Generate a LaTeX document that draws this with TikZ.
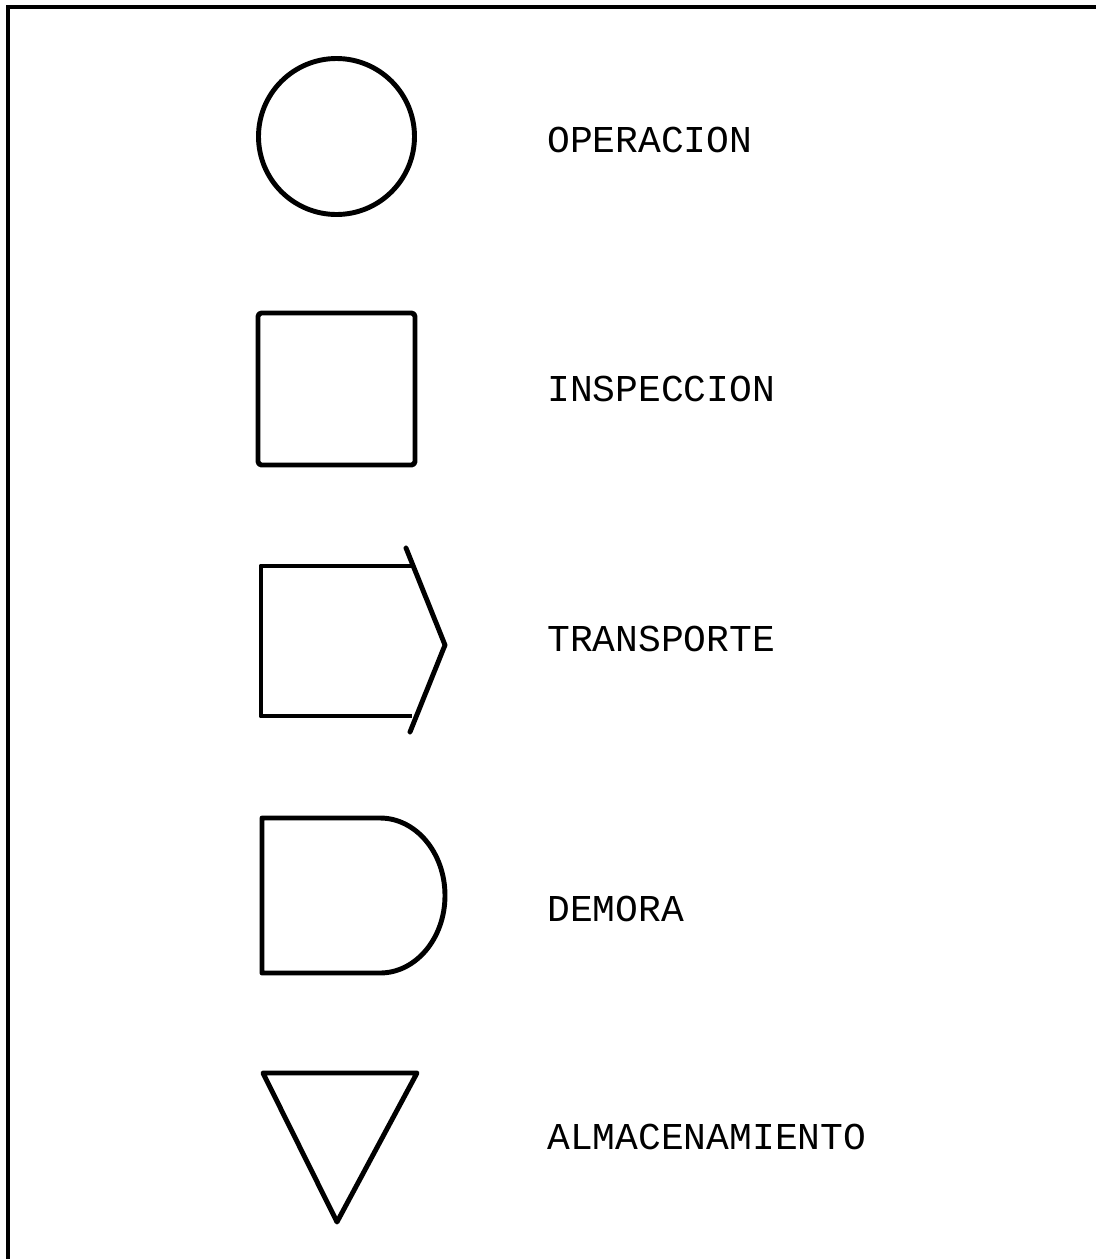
\documentclass[tikz,border=0pt]{standalone}
\usepackage{fontspec}
\setmonofont{Liberation Mono}
\usepackage{tikz}

\tikzset{
  symb/.style = {line width=2.8pt, line join=round},
  lbl/.style = {anchor=base west, inner sep=0pt, font=\ttfamily\fontsize{21.6}{26}\selectfont}
}

\begin{document}
\begin{tikzpicture}[x=0.02cm, y=-0.02cm]
  \useasboundingbox (0,0) rectangle (1096,1259);
  % frame (only top and left edges show)
  \draw [line width=2.4pt] (8,1259) -- (8,7) -- (1096,7);
  % symbols
  \draw [symb] (336.5,136.5) circle (78);
  \draw [symb, rounded corners=2pt] (258,313) rectangle (415,465);
  \draw [symb] (413,566) -- (261,566) -- (261,716) -- (412,716);
  \draw [symb, line cap=round] (406,548) -- (445,645) -- (410,732);
  \draw [symb] (380,818) -- (262,818) -- (262,973) -- (380,973)
        arc [start angle=-90, end angle=90, x radius=65, y radius=-77.5];
  \draw [symb] (263,1073) -- (417,1073) -- (337,1222) -- cycle;
  % labels
  \foreach \n/\y/\t in {op/152/OPERACION, insp/401/INSPECCION, trans/651/TRANSPORTE,
                        dem/921/DEMORA, alm/1149/ALMACENAMIENTO}
    \node [lbl] (\n) at (547,\y) {\t};
\end{tikzpicture}
\end{document}
